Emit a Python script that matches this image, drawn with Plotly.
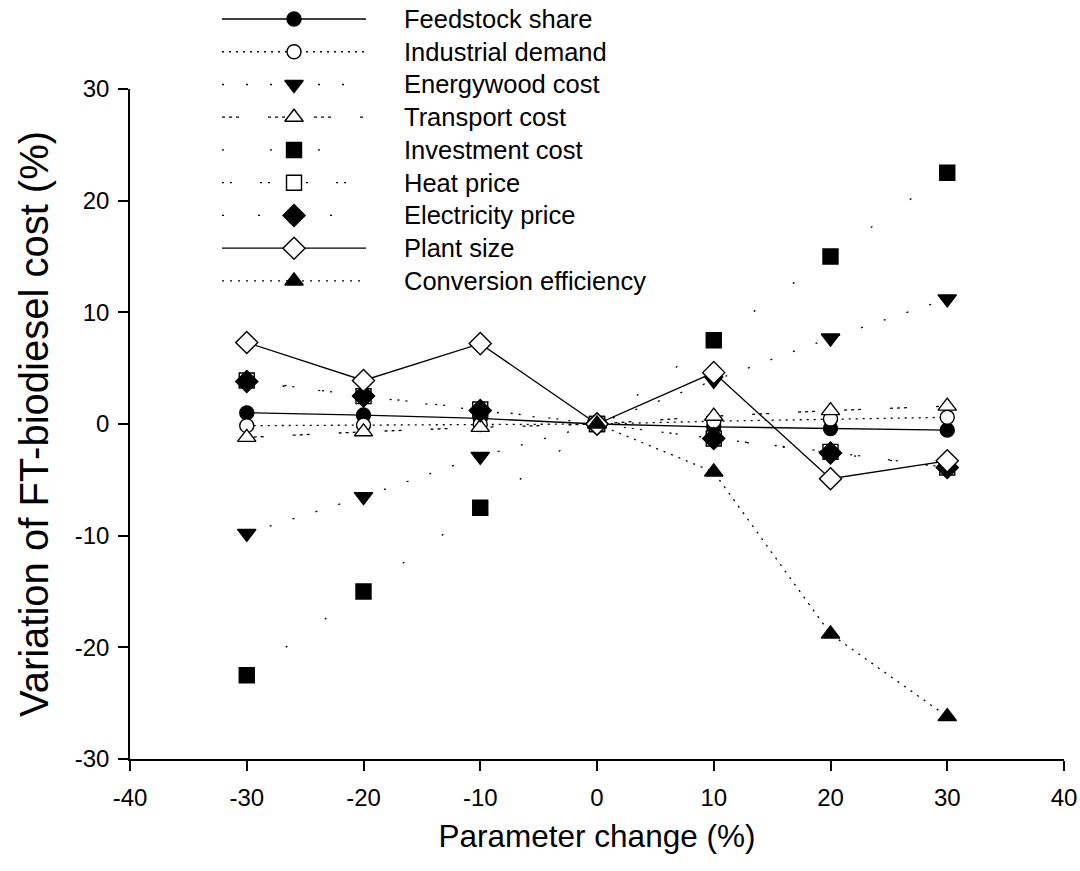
import plotly.graph_objects as go

# Sensitivity of FT-biodiesel cost to parameter changes
param_change = [-30, -20, -10, 0, 10, 20, 30]

feedstock_share = [1.0, 0.8, 0.5, 0.0, -0.25, -0.4, -0.55]
industrial_demand = [-0.15, -0.1, -0.05, 0.0, 0.25, 0.45, 0.6]
energywood_cost = [-9.8, -6.5, -2.9, 0.0, 3.9, 7.7, 11.2]
transport_cost = [-1.2, -0.7, -0.3, 0.0, 0.7, 1.2, 1.6]
investment_cost = [-22.5, -15.0, -7.5, 0.0, 7.5, 15.0, 22.5]
heat_price = [3.9, 2.5, 1.3, 0.0, -1.3, -2.5, -3.9]
electricity_price = [3.8, 2.5, 1.2, 0.0, -1.3, -2.6, -3.9]
plant_size = [7.3, 3.9, 7.2, 0.0, 4.6, -4.9, -3.3]
conversion_efficiency = [None, None, None, 0.0, -4.3, -18.8, -26.2]

x_ticks = [-40, -30, -20, -10, 0, 10, 20, 30, 40]
y_ticks = [-30, -20, -10, 0, 10, 20, 30]

series_names = [
    "Feedstock share", "Industrial demand", "Energywood cost", "Transport cost",
    "Investment cost", "Heat price", "Electricity price", "Plant size",
    "Conversion efficiency",
]
series_values = [
    feedstock_share, industrial_demand, energywood_cost, transport_cost,
    investment_cost, heat_price, electricity_price, plant_size,
    conversion_efficiency,
]

# (symbol, filled, size, dash)
styles = [
    ("circle", True, 14, "solid"),
    ("circle", False, 14, "2px,5px"),
    ("triangle-down", True, 16, "2px,22px"),
    ("triangle-up", False, 16, "3px,4px,3px,4px,3px,29px"),
    ("square", True, 15, "2px,46px"),
    ("square", False, 15, "2px,6px,2px,28px"),
    ("diamond", True, 17, "2px,34px"),
    ("diamond", False, 17, "solid"),
    ("triangle-up", True, 16, "2px,6px"),
]

FONT = "Liberation Sans, Arial, sans-serif"

fig = go.Figure()

for name, vals, (sym, filled, size, dash) in zip(series_names, series_values, styles):
    fig.add_trace(go.Scatter(
        x=param_change, y=vals, name=name, mode="lines+markers",
        line=dict(color="black", width=1.3, dash=dash),
        marker=dict(symbol=sym, size=size,
                    color="black" if filled else "white",
                    line=dict(color="black", width=1.4)),
        connectgaps=False, showlegend=False, cliponaxis=False,
        xaxis="x", yaxis="y",
    ))

# Hand-drawn key: long line samples with a marker in the middle
key_x = [0, 0.5, 1]
for i, (name, (sym, filled, size, dash)) in enumerate(zip(series_names, styles)):
    fig.add_trace(go.Scatter(
        x=key_x, y=[i, i, i], mode="lines",
        line=dict(color="black", width=1.3, dash=dash),
        showlegend=False, hoverinfo="skip", xaxis="x2", yaxis="y2",
    ))
    fig.add_trace(go.Scatter(
        x=[0.5], y=[i], mode="markers",
        marker=dict(symbol=sym, size=size,
                    color="black" if filled else "white",
                    line=dict(color="black", width=1.4)),
        showlegend=False, hoverinfo="skip", xaxis="x2", yaxis="y2",
        cliponaxis=False,
    ))
    fig.add_annotation(
        x=1.25, y=i, xref="x2", yref="y2", text=name, showarrow=False,
        xanchor="left", yanchor="middle",
        font=dict(family=FONT, size=25.5, color="black"),
    )

axis_common = dict(
    showline=True, linecolor="black", linewidth=1.5,
    ticks="outside", ticklen=10, tickwidth=1.5, tickcolor="black",
    showgrid=False, zeroline=False, automargin=False,
    tickfont=dict(family=FONT, size=24, color="black"),
)

fig.update_layout(
    width=1080, height=871,
    margin=dict(l=130, r=16, t=0, b=112, autoexpand=False),
    paper_bgcolor="white", plot_bgcolor="rgba(0,0,0,0)",
    xaxis=dict(
        range=[-40, 40], tickmode="array", tickvals=x_ticks,
        ticktext=[str(v) for v in x_ticks], ticklabelstandoff=6,
        domain=[0, 1], anchor="y",
        title=dict(text="Parameter change (%)", standoff=15,
                   font=dict(family=FONT, size=31.5, color="black")),
        **axis_common,
    ),
    yaxis=dict(
        range=[-30, 30], tickmode="array", tickvals=y_ticks,
        ticktext=[str(v) for v in y_ticks], ticklabelstandoff=4,
        domain=[0, 670 / 759], anchor="x",
        title=dict(text="Variation of FT-biodiesel cost (%)", standoff=14,
                   font=dict(family=FONT, size=40, color="black")),
        **axis_common,
    ),
    xaxis2=dict(range=[-0.639, 5.847], domain=[0, 1], anchor="y2",
                visible=False, automargin=False),
    yaxis2=dict(range=[22.6, -0.58], domain=[0, 1], anchor="x2",
                visible=False, automargin=False),
    showlegend=False,
)

fig.write_html("out.html")
